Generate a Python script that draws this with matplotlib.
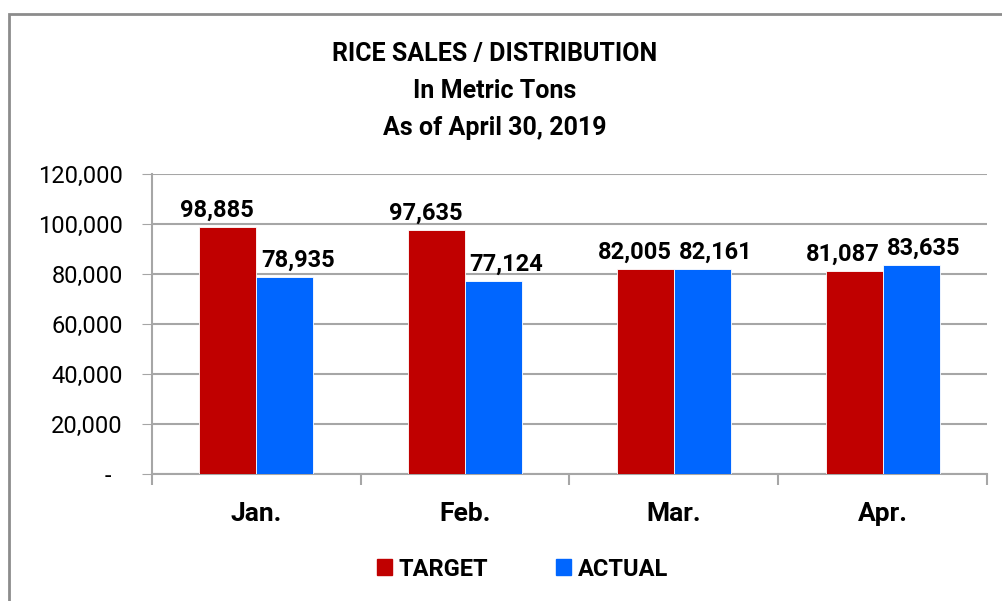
import numpy as np
import matplotlib
matplotlib.use("Agg")
import matplotlib.pyplot as plt
from matplotlib.patches import Rectangle, Patch
from matplotlib.ticker import FuncFormatter

# ─── Data ────────────────────────────────────────────────────────────────────
MONTHS = ["Jan.", "Feb.", "Mar.", "Apr."]
TARGET = [98885, 97635, 82005, 81087]
ACTUAL = [78935, 77124, 82161, 83635]
Y_TICKS = [0, 20000, 40000, 60000, 80000, 100000, 120000]

RED = "#C00000"
BLUE = "#0066FF"
GRID = "#A6A6A6"

plt.rcParams["font.family"] = ["Roboto", "DejaVu Sans"]
FS = 17


def fmt(v, _pos=None):
    return "-  " if v == 0 else f"{v:,.0f}"


def main():
    fig = plt.figure(figsize=(10.03, 6.01), dpi=100)
    ax = fig.add_axes([0.1515, 0.2113, 0.8325, 0.4992])

    x = np.arange(len(MONTHS))
    w = 0.273
    ax.bar(x - w / 2, TARGET, w, color=RED, edgecolor="white", linewidth=0.6,
           label="TARGET", zorder=3)
    ax.bar(x + w / 2, ACTUAL, w, color=BLUE, edgecolor="white", linewidth=0.6,
           label="ACTUAL", zorder=3)

    # value labels, nudged apart like the original
    for xi, t, a in zip(x, TARGET, ACTUAL):
        ax.annotate(f"{t:,}", (xi - w / 2, t), xytext=(-11, 5), textcoords="offset pixels",
                    ha="center", va="bottom", fontsize=FS, fontweight="bold")
        ax.annotate(f"{a:,}", (xi + w / 2, a), xytext=(13, 5), textcoords="offset pixels",
                    ha="center", va="bottom", fontsize=FS, fontweight="bold")

    ax.set_xlim(-0.5, len(MONTHS) - 0.5)
    ax.set_ylim(0, 120000)
    ax.set_yticks(Y_TICKS)
    ax.yaxis.set_major_formatter(FuncFormatter(fmt))
    ax.tick_params(axis="y", labelsize=FS, length=7, color=GRID, pad=14)
    ax.grid(axis="y", color=GRID, linewidth=1.5, zorder=0)

    # boundary ticks between categories, labels at centres
    ax.set_xticks(np.arange(len(MONTHS) + 1) - 0.5)
    ax.set_xticklabels([])
    ax.set_xticks(x, minor=True)
    ax.set_xticklabels(MONTHS, minor=True, fontsize=FS + 2, fontweight="bold")
    ax.tick_params(axis="x", which="major", length=8, color=GRID, width=1.5)
    ax.tick_params(axis="x", which="minor", length=0, pad=20)

    for side in ("top", "right"):
        ax.spines[side].set_visible(False)
    for side in ("left", "bottom"):
        ax.spines[side].set_color(GRID)
        ax.spines[side].set_linewidth(1.5)

    fig.text(0.4935, 1 - 91 / 601, "RICE SALES / DISTRIBUTION\nIn Metric Tons\nAs of April 30, 2019",
             ha="center", va="center", fontsize=FS + 1, fontweight="bold", linespacing=1.7)

    handles = [Patch(color=RED, label="TARGET"), Patch(color=BLUE, label="ACTUAL")]
    fig.legend(handles=handles, loc="center", bbox_to_anchor=(0.521, 1 - 569 / 601),
               ncol=2, frameon=False, prop={"size": FS, "weight": "bold"},
               handlelength=0.64, handleheight=0.64, handletextpad=0.3,
               columnspacing=2.85)

    # outer chart border (cropped at right and bottom in the original)
    fig.patches.append(Rectangle((9 / 1003, -0.05), 1.2, 1 - 14 / 601 + 0.05,
                                 transform=fig.transFigure, fill=False,
                                 edgecolor="#8C8C8C", linewidth=2))

    fig.savefig("out.png", dpi=100)
    plt.close(fig)


if __name__ == "__main__":
    main()
